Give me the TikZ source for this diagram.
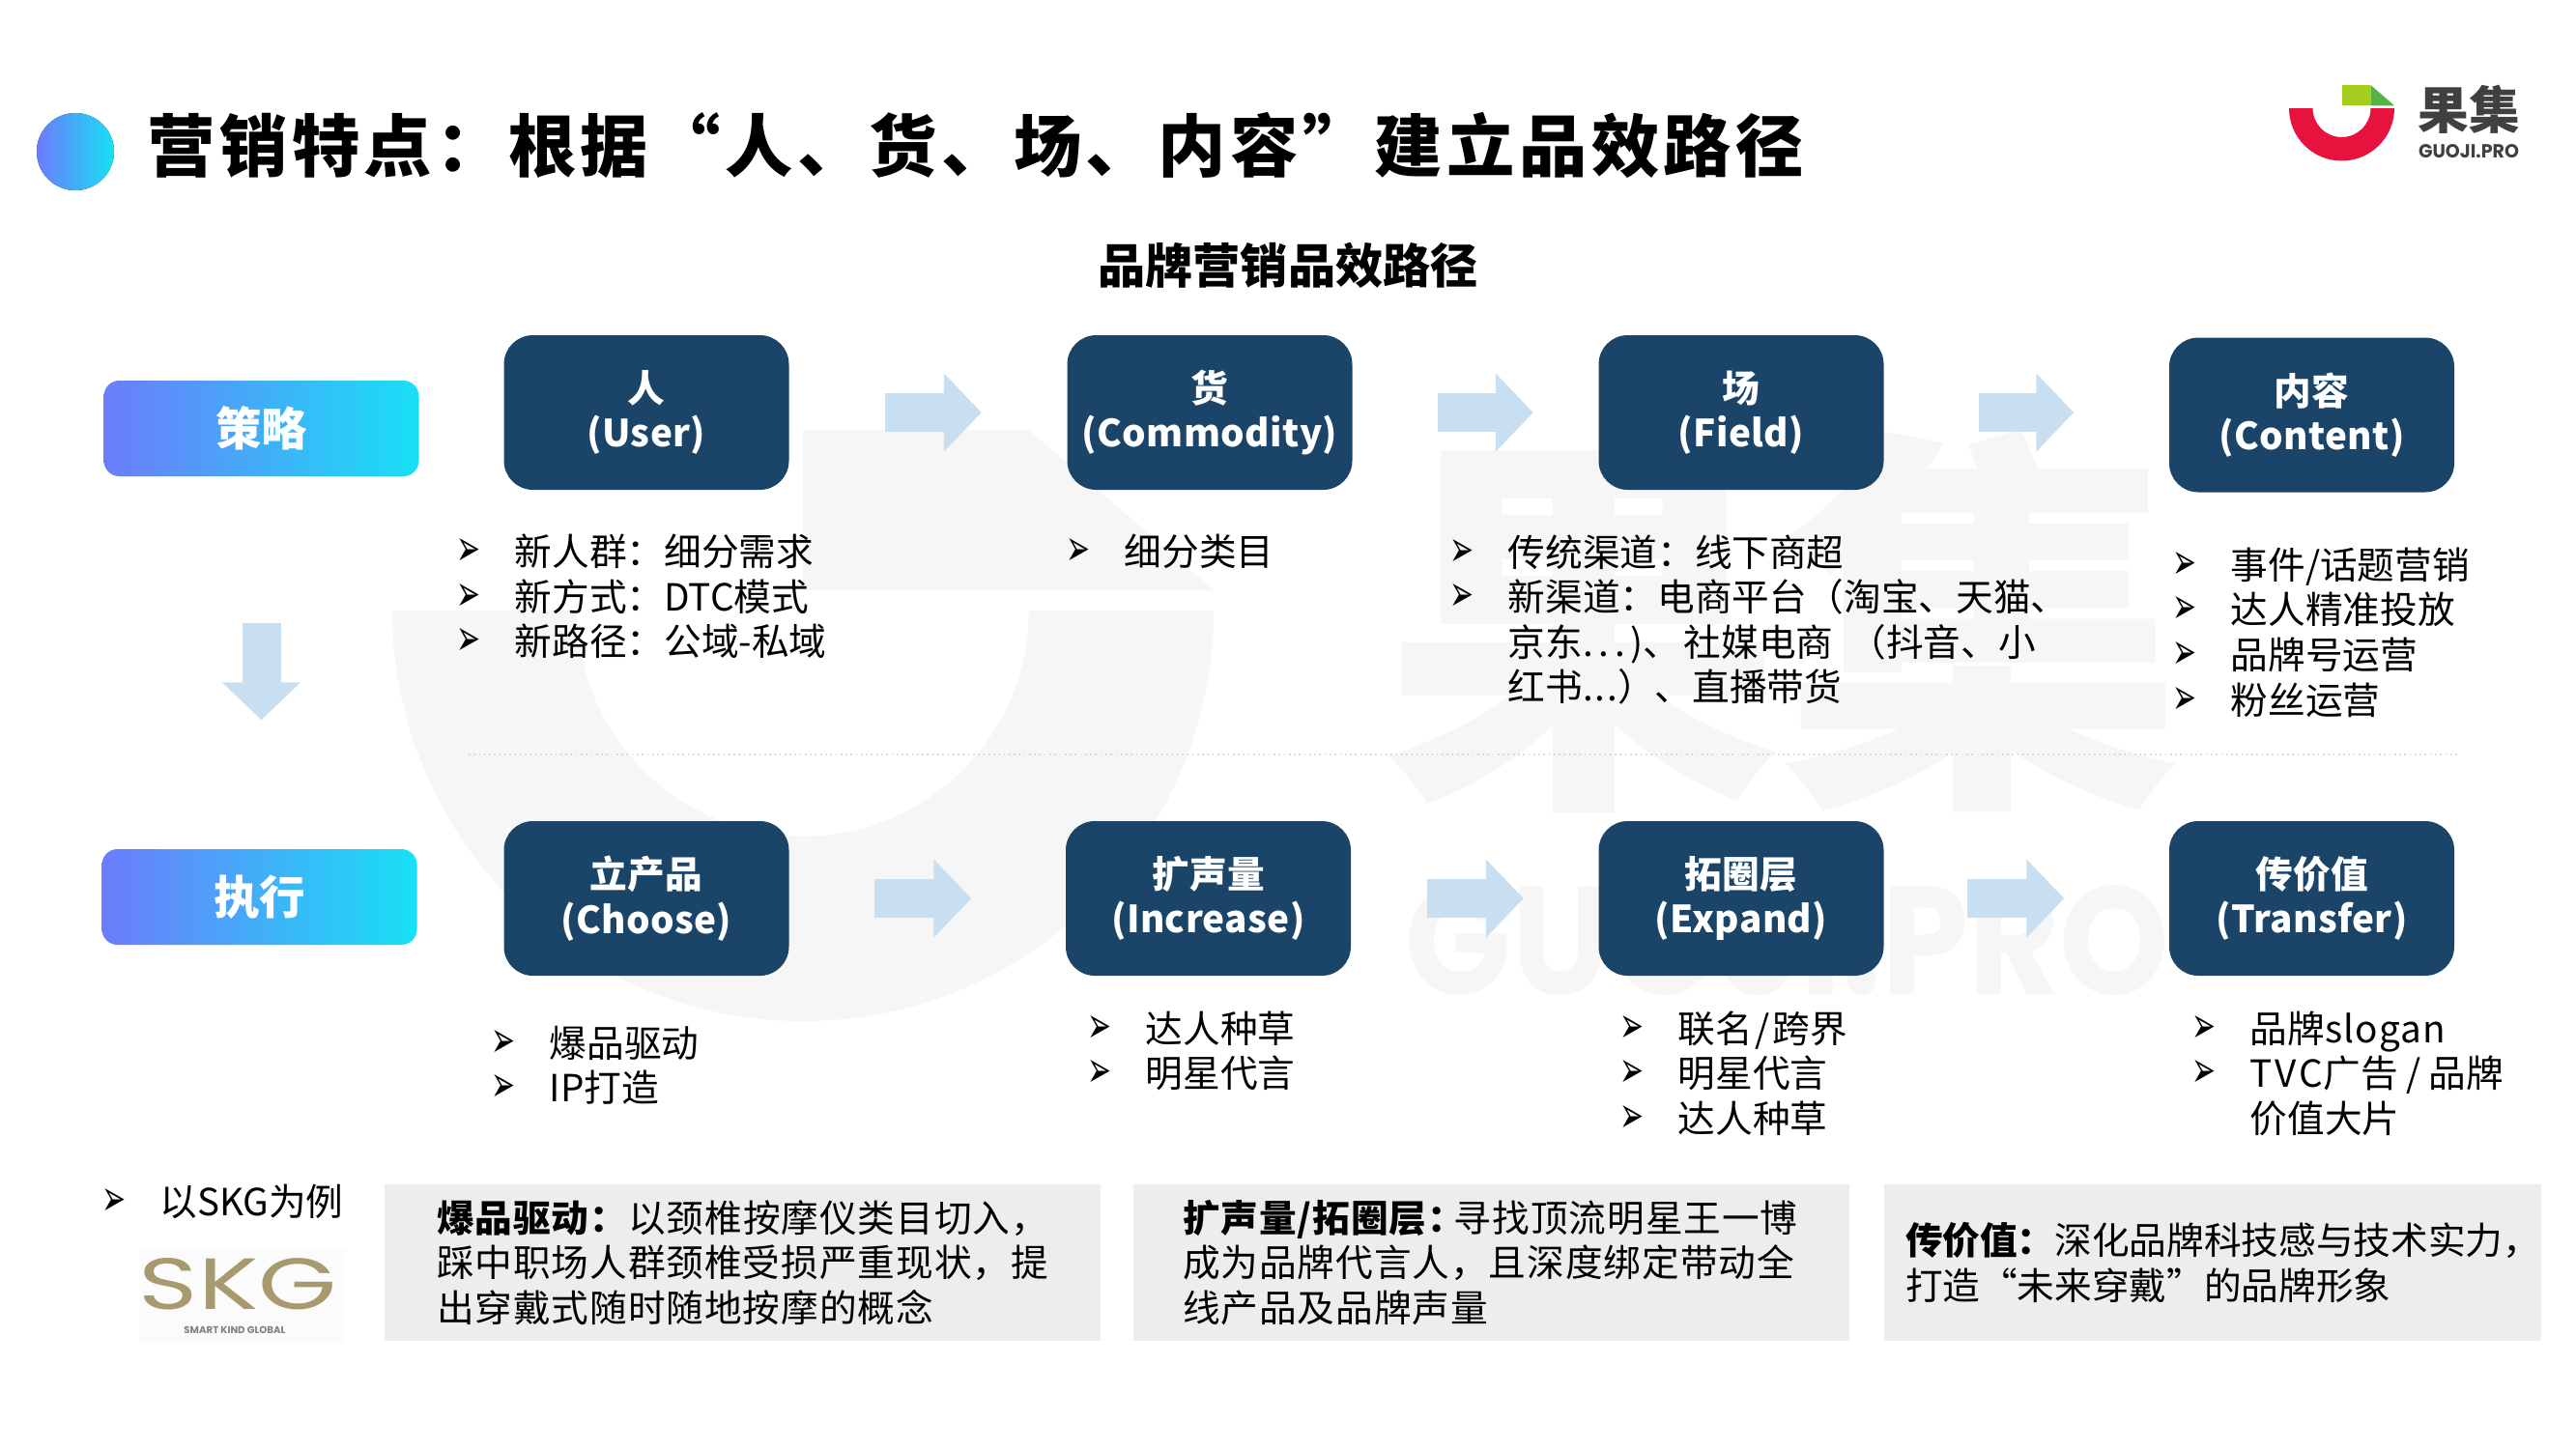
\documentclass[tikz,border=0pt]{standalone}
\usepackage{fontspec}
\setmainfont{Noto Sans CJK SC}
\newfontfamily\bulfont{DejaVu Sans}
\newfontfamily\latinfont{Poppins}
\newfontfamily\titlefont[LetterSpace=6.3]{Noto Sans CJK SC Black}
\newfontfamily\boxfont[LetterSpace=1]{Noto Sans CJK SC}
\newfontfamily\notefont[LetterSpace=2.5]{Noto Sans CJK SC}
\usetikzlibrary{arrows.meta, shapes, positioning}

\definecolor{boxblue}{HTML}{1A4468}
\definecolor{arrowblue}{HTML}{C8DFF2}
\definecolor{gradleft}{HTML}{6C7CFB}
\definecolor{gradright}{HTML}{17E0F5}
\definecolor{notegray}{HTML}{EDEDED}
\definecolor{wmark}{HTML}{F6F6F6}
\definecolor{skggold}{HTML}{A79A6E}
\definecolor{logored}{HTML}{E8123F}
\definecolor{logolime}{HTML}{A4CE1E}
\definecolor{logogreen}{HTML}{56B146}

\newcommand{\li}{\makebox[.60cm][l]{\resizebox{.25cm}{.28cm}{\bulfont ➢}}}
\newcommand{\nli}{\makebox[.60cm][l]{}}
\newcommand{\guojimark}[3]{%
	\fill[#1] (-1,0) arc (180:360:1) -- (.55,0) arc (360:180:.55) -- cycle;
	\fill[#2] (0,.05) rectangle (.55,.44);
	\fill[#3] (.55,.44) -- (1,.05) -- (.55,.05) -- cycle;
}

\tikzset{
	stepbox/.style={fill=boxblue, rounded corners=.3cm, minimum width=2.95cm, minimum height=1.6cm,
		text=white, align=center, inner sep=0, font=\boxfont\bfseries\fontsize{11pt}{13.24pt}\selectfont},
	tagbox/.style={rounded corners=.16cm, left color=gradleft, right color=gradright, minimum width=3.26cm,
		minimum height=.99cm, text=white, inner sep=0, font=\bfseries\fontsize{13.5pt}{16pt}\selectfont},
	itemlist/.style={anchor=north west, align=left, inner sep=0, font=\fontsize{11pt}{13.24pt}\selectfont},
	notebox/.style={fill=notegray, minimum height=1.62cm, align=left, inner ysep=0, font=\notefont\fontsize{11pt}{13.24pt}\selectfont},
	flow/.style={arrowblue, line width=.4cm, -{Triangle[length=.39cm, width=.79cm]}},
	divider/.style={densely dotted, draw=black!14, line width=.5pt}
}

\begin{document}
\begin{tikzpicture}
	\useasboundingbox (0,0) rectangle (26.66,-15);

	% watermark %
	\begin{scope}[shift={(8.31,-6.32)}, scale=4.25]
		\guojimark{wmark}{wmark}{wmark}
	\end{scope}
	\node[text=wmark, inner sep=0, font=\bfseries\fontsize{118pt}{118pt}\selectfont] (wmname) at (18.45,-6.44) {果集};
	\node[text=wmark, inner sep=0, font=\latinfont\bfseries] (wmsite) at (18.5,-9.74) {\resizebox{7.91cm}{1.13cm}{GUOJI.PRO}};

	% title %
	\fill[left color=gradleft, right color=gradright] (.78,-1.57) circle (.4);
	\node[anchor=west, inner sep=0, font=\titlefont\fontsize{20pt}{24pt}\selectfont] (title) at (1.52,-1.5) {营销特点：根据“人、货、场、内容”建立品效路径};
	\node[inner sep=0, font=\bfseries\fontsize{14pt}{17pt}\selectfont] (subtitle) at (13.33,-2.75) {品牌营销品效路径};

	% logo %
	\begin{scope}[shift={(24.235,-1.12)}, scale=.545]
		\guojimark{logored}{logolime}{logogreen}
	\end{scope}
	\node[text=black!75, inner sep=0, font=\bfseries\fontsize{15pt}{16pt}\selectfont] (logoname) at (25.55,-1.13) {果集};
	\node[text=black!75, inner sep=0, font=\latinfont\bfseries] (logosite) at (25.55,-1.57) {\resizebox{1.04cm}{.14cm}{GUOJI.PRO}};

	% nodes %
	\node[tagbox] (strategy) at (2.705,-4.435) {策略};
	\node[tagbox] (execute) at (2.685,-9.285) {执行};

	\node[stepbox] (user) at (6.69,-4.27) {人\\(User)};
	\node[stepbox, right of = user, node distance=5.83cm] (commodity) {货\\(Commodity)};
	\node[stepbox, right of = commodity, node distance=5.5cm] (field) {场\\(Field)};
	\node[stepbox, right of = field, node distance=5.905cm, yshift=-.025cm] (content) {内容\\(Content)};

	\node[stepbox, below of = user, node distance=5.03cm] (choose) {立产品\\(Choose)};
	\node[stepbox, right of = choose, node distance=5.815cm] (increase) {扩声量\\(Increase)};
	\node[stepbox, right of = increase, node distance=5.515cm] (expand) {拓圈层\\(Expand)};
	\node[stepbox, right of = expand, node distance=5.905cm] (transfer) {传价值\\(Transfer)};

	% lists %
	\node[itemlist] (userlist) at (4.72,-5.522) {\li 新人群：细分需求\\\li 新方式：DTC模式\\\li 新路径：公域-私域};
	\node[itemlist] (commoditylist) at (11.03,-5.522) {\li 细分类目};
	\node[itemlist] (fieldlist) at (15.0,-5.53) {\li 传统渠道：线下商超\\\li 新渠道：电商平台（淘宝、天猫、\\\nli 京东{\addfontfeature{LetterSpace=15}...)}、\hspace{.035cm}社媒电商\hspace{.16cm}（抖音、小\\\nli 红书{\addfontfeature{LetterSpace=5}...}）、直播带货};
	\node[itemlist] (contentlist) at (22.48,-5.662) {\li 事件/话题营销\\\li 达人精准投放\\\li 品牌号运营\\\li 粉丝运营};

	\node[itemlist] (chooselist) at (5.08,-10.612) {\li 爆品驱动\\\li IP打造};
	\node[itemlist] (increaselist) at (11.25,-10.46) {\li 达人种草\\\li 明星代言};
	\node[itemlist] (expandlist) at (16.76,-10.46) {\li 联名\kern.8pt/\kern.8pt跨界\\\li 明星代言\\\li 达人种草};
	\node[itemlist] (transferlist) at (22.68,-10.46) {\li 品牌{\addfontfeature{LetterSpace=3}slogan}\\\li {\addfontfeature{LetterSpace=8}TVC}广告\kern2.4pt/\kern2.4pt品牌\\\nli 价值大片};

	% example %
	\node[itemlist] (skgtag) at (1.05,-12.255) {\li 以SKG为例};
	\fill[black!1.5] (1.45,-12.93) rectangle (3.57,-13.9);
	\node[text=skggold, inner sep=0, font=\latinfont] (skglogo) at (2.465,-13.29) {\resizebox{2.05cm}{.53cm}{SKG}};
	\node[text=black!50, inner sep=0, font=\latinfont\bfseries\fontsize{2.9pt}{3pt}\selectfont] (skgmotto) at (2.43,-13.77) {SMART KIND GLOBAL};

	\node[notebox, inner xsep=.54cm, text width=6.33cm] (note1) at (7.685,-13.07) {\textbf{爆品驱动：}以颈椎按摩仪类目切入，\\踩中职场人群颈椎受损严重现状，提\\出穿戴式随时随地按摩的概念};
	\node[notebox, inner xsep=.51cm, text width=6.39cm] (note2) at (15.435,-13.07) {\textbf{扩声量/拓圈层：}\kern-3.5pt 寻找顶流明星王一博\\成为品牌代言人，且深度绑定带动全\\线产品及品牌声量};
	\node[notebox, inner xsep=.22cm, text width=6.36cm, font=\rmfamily\fontsize{11pt}{13.24pt}\selectfont] (note3) at (22.9,-13.07) {\makebox[6.36cm][l]{\textbf{传价值：}深化品牌科技感与技术实力，}\\打造“未来穿戴”的品牌形象};

	% divider %
	\coordinate (divl) at (4.85,-7.81);
	\coordinate (divr) at (25.46,-7.81);
	\draw[divider] (divl) -- (divr);

	% edges %
	\draw[flow, shorten <=.99cm, shorten >=.88cm] (user.east) -- (commodity.west);
	\draw[flow, shorten <=.88cm, shorten >=.67cm] (commodity.east) -- (field.west);
	\draw[flow, shorten <=.98cm, shorten >=.98cm] (field.east) -- (field.east -| content.west);
	\draw[flow, shorten <=.88cm, shorten >=.97cm] (choose.east) -- (increase.west);
	\draw[flow, shorten <=.78cm, shorten >=.77cm] (increase.east) -- (expand.west);
	\draw[flow, shorten <=.86cm, shorten >=1.08cm] (expand.east) -- (transfer.west);
	\draw[flow, shorten <=1.51cm, shorten >=1.33cm] (strategy.south) -- (strategy.south |- execute.north);
\end{tikzpicture}
\end{document}
